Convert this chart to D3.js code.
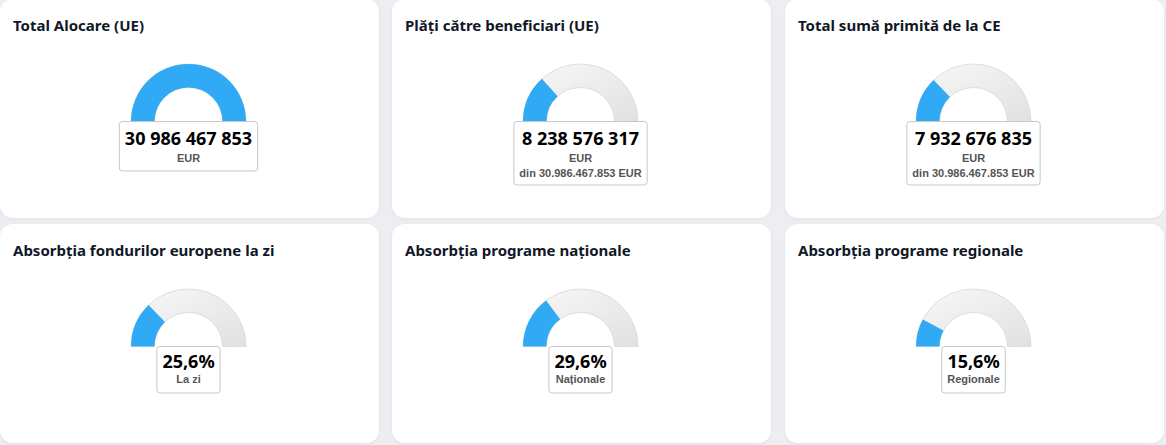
<!DOCTYPE html>
<html lang="ro">
<head>
<meta charset="utf-8">
<script src="https://cdn.jsdelivr.net/npm/d3@7"></script>
<style>
  html, body { margin: 0; padding: 0; background: #eceef1; }
  svg { display: block; font-family: "Noto Sans", "Open Sans", sans-serif; }
</style>
</head>
<body>
<script>
// card data, row by row
const titles = [
  "Total Alocare (UE)", "Plăți către beneficiari (UE)", "Total sumă primită de la CE",
  "Absorbția fondurilor europene la zi", "Absorbția programe naționale", "Absorbția programe regionale"
];
const totalAlocare = 30986467853;
const amounts = [30986467853, 8238576317, 7932676835];   // EUR, first row
const percents = [25.6, 29.6, 15.6];                       // %, second row
const percentLabels = ["La zi", "Naționale", "Regionale"];

const w = 1166, h = 445;
const cardX = [0, 392, 785], cardW = 379;
const cardY = [-1, 224], cardH = 219;

const ro = d3.formatLocale({ decimal: ",", thousands: " ", grouping: [3], currency: ["", ""] });
const roDots = d3.formatLocale({ decimal: ",", thousands: ".", grouping: [3], currency: ["", ""] });
const fmtSpace = ro.format(",d");
const fmtDots = roDots.format(",d");
const fmtPct = ro.format(".1f");

const cards = [];
amounts.forEach(function (v, i) {
  cards.push({
    title: titles[i], frac: v / totalAlocare,
    value: fmtSpace(v),
    subs: i === 0 ? ["EUR"] : ["EUR", "din " + fmtDots(totalAlocare) + " EUR"],
    col: i, row: 0
  });
});
percents.forEach(function (p, i) {
  cards.push({
    title: titles[3 + i], frac: p / 100,
    value: fmtPct(p) + "%",
    subs: [percentLabels[i]],
    col: i, row: 1
  });
});

const svg = d3.select("body").append("svg").attr("width", w).attr("height", h);

const defs = svg.append("defs");
const grad = defs.append("linearGradient").attr("id", "track")
  .attr("x1", 0).attr("y1", 0).attr("x2", 1).attr("y2", 1);
grad.append("stop").attr("offset", "0%").attr("stop-color", "#f8f8f8");
grad.append("stop").attr("offset", "100%").attr("stop-color", "#e1e1e1");

const shadow = defs.append("filter").attr("id", "soft")
  .attr("x", "-5%").attr("y", "-5%").attr("width", "110%").attr("height", "110%");
shadow.append("feDropShadow").attr("dx", 0).attr("dy", 1).attr("stdDeviation", 1.5)
  .attr("flood-color", "#000").attr("flood-opacity", 0.06);

svg.append("rect").attr("width", w).attr("height", h).attr("fill", "#eceef1");

const rOuter = 57.5, rInner = 34;
const angle = d3.scaleLinear().domain([0, 1]).range([-Math.PI / 2, Math.PI / 2]);
const arc = d3.arc().innerRadius(rInner).outerRadius(rOuter);

const g = svg.selectAll("g.card")
  .data(cards)
  .join("g")
  .attr("class", "card")
  .attr("transform", d => "translate(" + cardX[d.col] + "," + cardY[d.row] + ")");

g.append("rect")
  .attr("width", cardW).attr("height", cardH)
  .attr("rx", 13)
  .attr("fill", "#fff")
  .attr("filter", "url(#soft)");

g.append("text")
  .attr("x", 13).attr("y", 32)
  .attr("font-size", 15).attr("font-weight", 700)
  .attr("fill", "#111827")
  .text(d => d.title);

const gauge = g.append("g")
  .attr("transform", "translate(" + (cardW / 2 - 1) + "," + 122.5 + ")");

gauge.append("path")
  .attr("d", arc({ startAngle: angle(0), endAngle: angle(1) }))
  .attr("fill", "url(#track)")
  .attr("stroke", "#d4d4d4").attr("stroke-width", 0.7);

gauge.append("path")
  .attr("d", d => arc({ startAngle: angle(0), endAngle: angle(d.frac) }))
  .attr("fill", "#31aaf6");

// value box under the gauge
gauge.each(function (d) {
  const gg = d3.select(this);
  const big = d.row === 0;
  const box = gg.append("rect").attr("fill", "#fff")
    .attr("stroke", "#c8c8c8").attr("stroke-width", 1).attr("rx", 3);
  const val = gg.append("text")
    .attr("text-anchor", "middle").attr("y", big ? 23 : 21)
    .attr("font-size", 18).attr("font-weight", 700).attr("fill", "#000")
    .text(d.value);
  const subs = d.subs.map(function (s, k) {
    return gg.append("text")
      .attr("text-anchor", "middle").attr("y", (big ? 40 : 36.5) + k * 15)
      .attr("font-family", "'Liberation Sans', Arial, sans-serif")
      .attr("font-size", 11).attr("font-weight", 700).attr("fill", "#555")
      .text(s);
  });
  let tw = val.node().getComputedTextLength();
  subs.forEach(s => { tw = Math.max(tw, s.node().getComputedTextLength()); });
  const bw = tw + 11;
  const bh = big ? (d.subs.length > 1 ? 63.5 : 49.5) : 46.5;
  box.attr("x", -bw / 2).attr("y", 0).attr("width", bw).attr("height", bh);
});
</script>
</body>
</html>
